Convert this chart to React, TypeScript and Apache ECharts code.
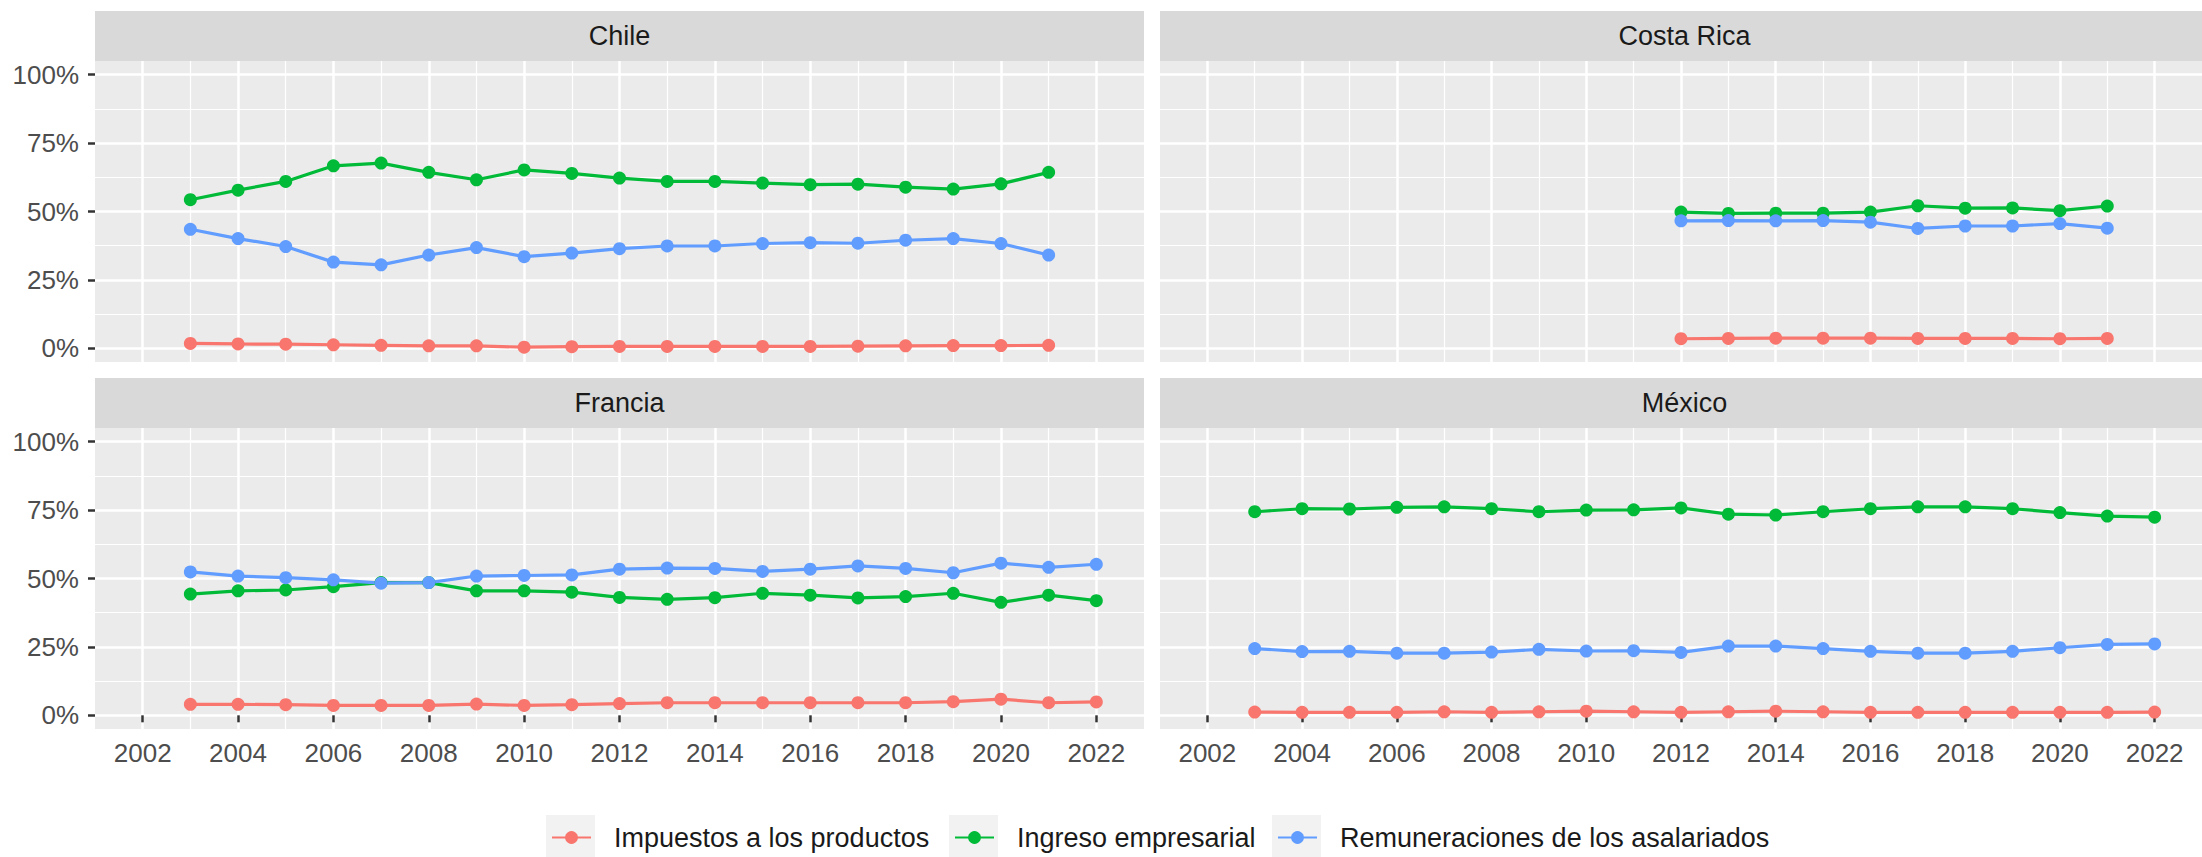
import React, { useEffect, useRef } from "react";
import * as echarts from "echarts";

// ---------- data (percent of total) ----------
const chileYears = [2003, 2004, 2005, 2006, 2007, 2008, 2009, 2010, 2011, 2012, 2013, 2014, 2015, 2016, 2017, 2018, 2019, 2020, 2021];
const chileImpuestos = [1.8, 1.6, 1.5, 1.3, 1.1, 0.9, 0.9, 0.4, 0.6, 0.7, 0.7, 0.7, 0.7, 0.7, 0.8, 0.9, 1.0, 1.0, 1.1];
const chileIngreso = [54.3, 57.8, 61.0, 66.7, 67.7, 64.3, 61.6, 65.2, 63.9, 62.2, 61.0, 61.0, 60.4, 59.8, 60.0, 58.9, 58.2, 60.1, 64.3];
const chileRemuneraciones = [43.5, 40.1, 37.2, 31.5, 30.5, 34.1, 36.8, 33.5, 34.8, 36.4, 37.4, 37.4, 38.3, 38.6, 38.4, 39.5, 40.1, 38.3, 34.1];

const costaRicaYears = [2012, 2013, 2014, 2015, 2016, 2017, 2018, 2019, 2020, 2021];
const costaRicaImpuestos = [3.5, 3.6, 3.7, 3.7, 3.7, 3.6, 3.6, 3.6, 3.5, 3.6];
const costaRicaIngreso = [49.8, 49.3, 49.4, 49.4, 49.8, 52.1, 51.2, 51.3, 50.3, 52.0];
const costaRicaRemuneraciones = [46.6, 46.7, 46.6, 46.7, 46.1, 43.8, 44.7, 44.7, 45.6, 43.9];

const franciaYears = [2003, 2004, 2005, 2006, 2007, 2008, 2009, 2010, 2011, 2012, 2013, 2014, 2015, 2016, 2017, 2018, 2019, 2020, 2021, 2022];
const franciaImpuestos = [4.0, 4.0, 3.9, 3.6, 3.6, 3.6, 4.1, 3.6, 3.9, 4.3, 4.6, 4.6, 4.6, 4.6, 4.6, 4.6, 5.0, 5.9, 4.6, 4.9];
const franciaIngreso = [44.3, 45.5, 45.8, 47.0, 48.5, 48.5, 45.5, 45.5, 45.0, 43.1, 42.4, 43.0, 44.6, 43.9, 42.9, 43.4, 44.6, 41.3, 43.9, 41.9];
const franciaRemuneraciones = [52.4, 50.9, 50.3, 49.5, 48.3, 48.5, 50.9, 51.1, 51.3, 53.4, 53.8, 53.7, 52.6, 53.4, 54.6, 53.7, 52.1, 55.6, 54.1, 55.2];

const mexicoYears = [2003, 2004, 2005, 2006, 2007, 2008, 2009, 2010, 2011, 2012, 2013, 2014, 2015, 2016, 2017, 2018, 2019, 2020, 2021, 2022];
const mexicoImpuestos = [1.2, 1.1, 1.1, 1.1, 1.3, 1.1, 1.3, 1.5, 1.3, 1.1, 1.3, 1.5, 1.3, 1.1, 1.1, 1.1, 1.1, 1.1, 1.1, 1.2];
const mexicoIngreso = [74.4, 75.5, 75.4, 76.0, 76.2, 75.5, 74.4, 75.0, 75.1, 75.8, 73.5, 73.2, 74.4, 75.5, 76.2, 76.2, 75.5, 74.1, 72.8, 72.4];
const mexicoRemuneraciones = [24.4, 23.3, 23.4, 22.7, 22.7, 23.1, 24.1, 23.5, 23.6, 23.0, 25.3, 25.3, 24.4, 23.4, 22.7, 22.7, 23.4, 24.7, 25.9, 26.1];

const seriesNames = ["Impuestos a los productos", "Ingreso empresarial", "Remuneraciones de los asalariados"];
const seriesColors = ["#F8766D", "#00BA38", "#619CFF"];

const xMajorTicks = [2002, 2004, 2006, 2008, 2010, 2012, 2014, 2016, 2018, 2020, 2022];
const xMinorTicks = [2003, 2005, 2007, 2009, 2011, 2013, 2015, 2017, 2019, 2021];
const yMajorTicks = [0, 25, 50, 75, 100];
const yMinorTicks = [12.5, 37.5, 62.5, 87.5];

const panels = [
  { name: "Chile", years: chileYears, values: [chileImpuestos, chileIngreso, chileRemuneraciones] },
  { name: "Costa Rica", years: costaRicaYears, values: [costaRicaImpuestos, costaRicaIngreso, costaRicaRemuneraciones] },
  { name: "Francia", years: franciaYears, values: [franciaImpuestos, franciaIngreso, franciaRemuneraciones] },
  { name: "México", years: mexicoYears, values: [mexicoImpuestos, mexicoIngreso, mexicoRemuneraciones] },
];

// ---------- layout ----------
const FONT = "'Liberation Sans', Arial, sans-serif";
const COL_LEFT = [95, 1160];
const ROW_TOP = [61, 428];
const PANEL_W = 1049;
const PANEL_H = 301;
const STRIP_H = 50;
const LEGEND_KEYS = [546, 949, 1272];
const KEY_SIZE = 49;
const KEY_TOP = 815;

export default function App() {
  const ref = useRef<HTMLDivElement>(null);

  useEffect(() => {
    if (!ref.current) return;
    const chart = echarts.init(ref.current, undefined, { renderer: "svg" });

    const grids: any[] = [];
    const xAxes: any[] = [];
    const yAxes: any[] = [];
    const series: any[] = [];
    const graphics: any[] = [];

    panels.forEach((p, i) => {
      const col = i % 2;
      const row = Math.floor(i / 2);
      const left = COL_LEFT[col];
      const top = ROW_TOP[row];
      const showX = row === 1;
      const showY = col === 0;

      grids.push({
        left,
        top,
        width: PANEL_W,
        height: PANEL_H,
        show: true,
        backgroundColor: "#EBEBEB",
        borderWidth: 0,
        containLabel: false,
      });

      // minor axes (grid lines only)
      xAxes.push({
        type: "value",
        gridIndex: i,
        position: "bottom",
        offset: 0,
        min: 2001,
        max: 2023,
        axisLine: { show: false },
        axisTick: { show: false, customValues: xMinorTicks },
        axisLabel: { show: false, customValues: xMinorTicks },
        splitLine: { show: true, lineStyle: { color: "#FFFFFF", width: 1.2 } },
      });
      yAxes.push({
        type: "value",
        gridIndex: i,
        position: "left",
        offset: 0,
        min: -5,
        max: 105,
        axisLine: { show: false },
        axisTick: { show: false, customValues: yMinorTicks },
        axisLabel: { show: false, customValues: yMinorTicks },
        splitLine: { show: true, lineStyle: { color: "#FFFFFF", width: 1.2 } },
      });
      // major axes
      xAxes.push({
        type: "value",
        gridIndex: i,
        position: "bottom",
        offset: 0,
        min: 2001,
        max: 2023,
        axisLine: { show: false },
        axisTick: {
          show: showX,
          customValues: xMajorTicks,
          length: 7,
          lineStyle: { color: "#333333", width: 2.5 },
        },
        axisLabel: {
          show: showX,
          customValues: xMajorTicks,
          margin: 11,
          fontSize: 26,
          color: "#4D4D4D",
          fontFamily: FONT,
          formatter: (v: number) => String(v),
        },
        splitLine: { show: true, lineStyle: { color: "#FFFFFF", width: 2.5 } },
      });
      yAxes.push({
        type: "value",
        gridIndex: i,
        position: "left",
        offset: 0,
        min: -5,
        max: 105,
        axisLine: { show: false },
        axisTick: {
          show: showY,
          customValues: yMajorTicks,
          length: 7,
          lineStyle: { color: "#333333", width: 2.5 },
        },
        axisLabel: {
          show: showY,
          customValues: yMajorTicks,
          margin: 16,
          fontSize: 26,
          color: "#4D4D4D",
          fontFamily: FONT,
          formatter: (v: number) => `${v}%`,
        },
        splitLine: { show: true, lineStyle: { color: "#FFFFFF", width: 2.5 } },
      });

      p.values.forEach((vals, k) => {
        series.push({
          type: "line",
          name: seriesNames[k],
          xAxisIndex: i * 2 + 1,
          yAxisIndex: i * 2 + 1,
          data: p.years.map((y, j) => [y, vals[j]]),
          symbol: "circle",
          symbolSize: 13,
          showSymbol: true,
          lineStyle: { color: seriesColors[k], width: 3.2 },
          itemStyle: { color: seriesColors[k] },
          color: seriesColors[k],
          emphasis: { disabled: true },
          z: 3,
        });
      });

      // facet strip
      graphics.push({
        type: "rect",
        shape: { x: left, y: top - STRIP_H, width: PANEL_W, height: STRIP_H },
        style: { fill: "#D9D9D9" },
        z: 1,
      });
      graphics.push({
        type: "text",
        x: left + PANEL_W / 2,
        y: top - STRIP_H / 2,
        style: {
          text: p.name,
          fill: "#1A1A1A",
          font: `27px ${FONT}`,
          textAlign: "center",
          textVerticalAlign: "middle",
        },
        z: 2,
      });
    });

    // legend key boxes
    LEGEND_KEYS.forEach((kx) => {
      graphics.push({
        type: "rect",
        shape: { x: kx, y: KEY_TOP, width: KEY_SIZE, height: KEY_SIZE },
        style: { fill: "#F2F2F2" },
        z: 1,
      });
    });

    const legends = seriesNames.map((n, k) => ({
      data: [n],
      left: LEGEND_KEYS[k] + 5,
      top: 824,
      padding: 0,
      itemWidth: 39,
      itemHeight: 16,
      selectedMode: false,
      textStyle: { fontSize: 27, color: "#1A1A1A", fontFamily: FONT, padding: [0, 0, 0, 18] },
    }));

    chart.setOption({
      animation: false,
      backgroundColor: "#FFFFFF",
      textStyle: { fontFamily: FONT },
      grid: grids,
      xAxis: xAxes,
      yAxis: yAxes,
      series,
      legend: legends,
      graphic: { elements: graphics },
    });

    return () => chart.dispose();
  }, []);

  return (
    <div
      ref={ref}
      style={{ position: "absolute", left: 0, top: 0, width: 2202, height: 857 }}
    />
  );
}
